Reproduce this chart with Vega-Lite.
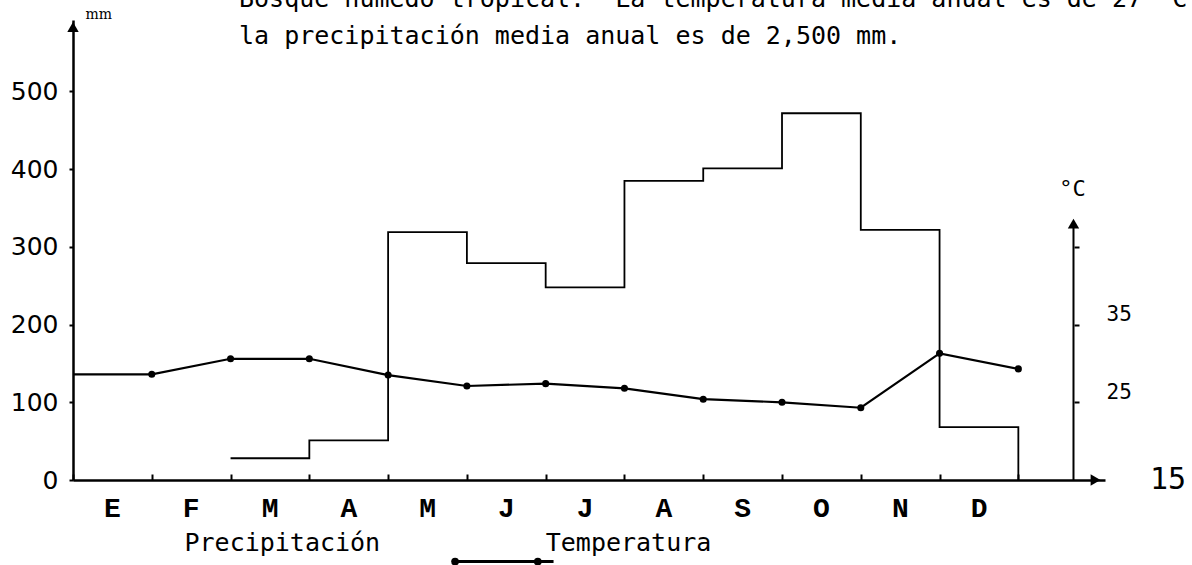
{
  "$schema": "https://vega.github.io/schema/vega-lite/v6.json",
  "width": 1032,
  "height": 460,
  "autosize": {"type": "none"},
  "padding": {"left": 73, "top": 20, "right": 87, "bottom": 85},
  "background": "white",
  "config": {
    "view": {"stroke": null},
    "axis": {"domainColor": "#000", "tickColor": "#000", "labelColor": "#000", "titleColor": "#000", "grid": false}
  },
  "datasets": {
    "precip": [
      {"mes": 2, "mm": 28},
      {"mes": 3, "mm": 51},
      {"mes": 4, "mm": 319},
      {"mes": 5, "mm": 279},
      {"mes": 6, "mm": 248},
      {"mes": 7, "mm": 385},
      {"mes": 8, "mm": 401},
      {"mes": 9, "mm": 472},
      {"mes": 10, "mm": 322},
      {"mes": 11, "mm": 68},
      {"mes": 12, "mm": 0}
    ],
    "temp": [
      {"mes": 0, "t": 28.6},
      {"mes": 1, "t": 28.6},
      {"mes": 2, "t": 30.6},
      {"mes": 3, "t": 30.6},
      {"mes": 4, "t": 28.5},
      {"mes": 5, "t": 27.1},
      {"mes": 6, "t": 27.4},
      {"mes": 7, "t": 26.8},
      {"mes": 8, "t": 25.4},
      {"mes": 9, "t": 25.0},
      {"mes": 10, "t": 24.3},
      {"mes": 11, "t": 31.3},
      {"mes": 12, "t": 29.3}
    ]
  },
  "layer": [
    {
      "data": {"name": "precip"},
      "mark": {"type": "line", "interpolate": "step-after", "color": "#000", "strokeWidth": 1.8},
      "encoding": {
        "x": {
          "field": "mes", "type": "quantitative",
          "scale": {"domain": [0, 13.1], "nice": false, "zero": false},
          "axis": {
            "values": [0, 1, 2, 3, 4, 5, 6, 7, 8, 9, 10, 11, 12],
            "labelExpr": "datum.value == 0 ? 'E' : datum.value == 1 ? 'F' : datum.value == 2 ? 'M' : datum.value == 3 ? 'A' : datum.value == 4 ? 'M' : datum.value == 5 ? 'J' : datum.value == 6 ? 'J' : datum.value == 7 ? 'A' : datum.value == 8 ? 'S' : datum.value == 9 ? 'O' : datum.value == 10 ? 'N' : datum.value == 11 ? 'D' : ''",
            "labelOffset": 39,
            "labelFlush": false,
            "labelOverlap": false,
            "labelFont": "Liberation Mono",
            "labelFontWeight": "bold",
            "labelFontSize": 28,
            "labelPadding": 20,
            "tickSize": -6,
            "tickWidth": 2,
            "domainWidth": 2.5,
            "title": "Precipitación\u00a0\u00a0\u00a0\u00a0\u00a0\u00a0\u00a0\u00a0\u00a0\u00a0\u00a0Temperatura",
            "titleFont": "DejaVu Sans Mono",
            "titleFontSize": 25,
            "titleFontWeight": "normal",
            "titleAlign": "left",
            "titleBaseline": "middle",
            "titleX": 111,
            "titleY": 62
          }
        },
        "y": {
          "field": "mm", "type": "quantitative",
          "scale": {"domain": [0, 592], "nice": false},
          "axis": {
            "values": [0, 100, 200, 300, 400, 500],
            "labelFont": "DejaVu Sans",
            "labelFontSize": 25,
            "labelPadding": 11,
            "tickSize": 4,
            "tickWidth": 2,
            "domainWidth": 2.5,
            "title": "mm",
            "titleFont": "DejaVu Serif",
            "titleFontSize": 14,
            "titleFontWeight": "normal",
            "titleAngle": 0,
            "titleAlign": "left",
            "titleBaseline": "middle",
            "titleX": 12,
            "titleY": -6
          }
        }
      }
    },
    {
      "data": {"values": [{}]},
      "mark": {"type": "point", "shape": "triangle-up", "filled": true, "color": "#000", "size": 130, "opacity": 1},
      "encoding": {
        "x": {"datum": 0, "type": "quantitative", "scale": {"domain": [0, 13.1], "nice": false, "zero": false}, "axis": null},
        "y": {"datum": 583, "type": "quantitative", "scale": {"domain": [0, 592], "nice": false}, "axis": null}
      }
    },
    {
      "data": {"values": [{}]},
      "mark": {"type": "point", "shape": "triangle-right", "filled": true, "color": "#000", "size": 130, "opacity": 1},
      "encoding": {
        "x": {"datum": 12.98, "type": "quantitative", "scale": {"domain": [0, 13.1], "nice": false, "zero": false}, "axis": null},
        "y": {"datum": 0, "type": "quantitative", "scale": {"domain": [0, 592], "nice": false}, "axis": null}
      }
    },
    {
      "data": {"values": [{}]},
      "mark": {"type": "text", "text": "Bosque húmedo tropical.\u00a0 La temperatura media anual es de 27 °C y", "font": "DejaVu Sans Mono", "fontSize": 25, "align": "left", "baseline": "alphabetic", "color": "#000"},
      "encoding": {
        "x": {"datum": 2.107, "type": "quantitative", "scale": {"domain": [0, 13.1], "nice": false, "zero": false}, "axis": null},
        "y": {"datum": 609, "type": "quantitative", "scale": {"domain": [0, 592], "nice": false}, "axis": null}
      }
    },
    {
      "data": {"values": [{}]},
      "mark": {"type": "text", "text": "la precipitación media anual es de 2,500 mm.", "font": "DejaVu Sans Mono", "fontSize": 25, "align": "left", "baseline": "alphabetic", "color": "#000"},
      "encoding": {
        "x": {"datum": 2.107, "type": "quantitative", "scale": {"domain": [0, 13.1], "nice": false, "zero": false}, "axis": null},
        "y": {"datum": 561, "type": "quantitative", "scale": {"domain": [0, 592], "nice": false}, "axis": null}
      }
    },
    {
      "data": {"values": [{}]},
      "mark": {"type": "rule", "color": "#000", "strokeWidth": 3},
      "encoding": {
        "x": {"datum": 4.85, "type": "quantitative", "scale": {"domain": [0, 13.1], "nice": false, "zero": false}, "axis": null},
        "x2": {"datum": 6.1},
        "y": {"datum": -105, "type": "quantitative", "scale": {"domain": [0, 592], "nice": false}, "axis": null}
      }
    },
    {
      "data": {"values": [{}]},
      "mark": {"type": "circle", "color": "#000", "size": 60, "opacity": 1},
      "encoding": {
        "x": {"datum": 4.85, "type": "quantitative", "scale": {"domain": [0, 13.1], "nice": false, "zero": false}, "axis": null},
        "y": {"datum": -105, "type": "quantitative", "scale": {"domain": [0, 592], "nice": false}, "axis": null}
      }
    },
    {
      "data": {"values": [{}]},
      "mark": {"type": "circle", "color": "#000", "size": 60, "opacity": 1},
      "encoding": {
        "x": {"datum": 5.9, "type": "quantitative", "scale": {"domain": [0, 13.1], "nice": false, "zero": false}, "axis": null},
        "y": {"datum": -105, "type": "quantitative", "scale": {"domain": [0, 592], "nice": false}, "axis": null}
      }
    },
    {
      "data": {"name": "temp"},
      "mark": {"type": "line", "color": "#000", "strokeWidth": 2.2},
      "encoding": {
        "x": {"field": "mes", "type": "quantitative", "scale": {"domain": [0, 13.1], "nice": false, "zero": false}, "axis": null},
        "y": {
          "field": "t", "type": "quantitative",
          "scale": {"domain": [15, 74.2], "nice": false, "zero": false},
          "axis": {
            "orient": "right",
            "offset": -31,
            "values": [25, 35, 45],
            "domain": false,
            "labelExpr": "datum.value == 45 ? '' : datum.label",
            "labelFont": "DejaVu Sans Mono",
            "labelFontSize": 21,
            "labelPadding": 27,
            "labelOffset": -10,
            "tickSize": 5,
            "tickWidth": 2,
            "title": "°C",
            "titleFont": "DejaVu Sans Mono",
            "titleFontSize": 22,
            "titleFontWeight": "normal",
            "titleAngle": 0,
            "titleAlign": "center",
            "titleBaseline": "middle",
            "titleX": -2,
            "titleY": 168
          }
        }
      }
    },
    {
      "data": {"name": "temp"},
      "transform": [{"filter": "datum.mes >= 1"}],
      "mark": {"type": "circle", "color": "#000", "size": 50, "opacity": 1},
      "encoding": {
        "x": {"field": "mes", "type": "quantitative", "scale": {"domain": [0, 13.1], "nice": false, "zero": false}, "axis": null},
        "y": {"field": "t", "type": "quantitative", "scale": {"domain": [15, 74.2], "nice": false, "zero": false}, "axis": null}
      }
    },
    {
      "data": {"values": [{}]},
      "mark": {"type": "rule", "color": "#000", "strokeWidth": 2},
      "encoding": {
        "x": {"datum": 12.7, "type": "quantitative", "scale": {"domain": [0, 13.1], "nice": false, "zero": false}, "axis": null},
        "y": {"datum": 15, "type": "quantitative", "scale": {"domain": [15, 74.2], "nice": false, "zero": false}, "axis": null},
        "y2": {"datum": 48}
      }
    },
    {
      "data": {"values": [{}]},
      "mark": {"type": "point", "shape": "triangle-up", "filled": true, "color": "#000", "size": 130, "opacity": 1},
      "encoding": {
        "x": {"datum": 12.7, "type": "quantitative", "scale": {"domain": [0, 13.1], "nice": false, "zero": false}, "axis": null},
        "y": {"datum": 48, "type": "quantitative", "scale": {"domain": [15, 74.2], "nice": false, "zero": false}, "axis": null}
      }
    },
    {
      "data": {"values": [{}]},
      "mark": {"type": "text", "text": "15", "font": "DejaVu Sans Mono", "fontSize": 30, "align": "center", "baseline": "middle", "color": "#000"},
      "encoding": {
        "x": {"datum": 13.9, "type": "quantitative", "scale": {"domain": [0, 13.1], "nice": false, "zero": false}, "axis": null},
        "y": {"datum": 15, "type": "quantitative", "scale": {"domain": [15, 74.2], "nice": false, "zero": false}, "axis": null}
      }
    }
  ],
  "resolve": {"scale": {"y": "independent"}, "axis": {"x": "independent"}}
}
